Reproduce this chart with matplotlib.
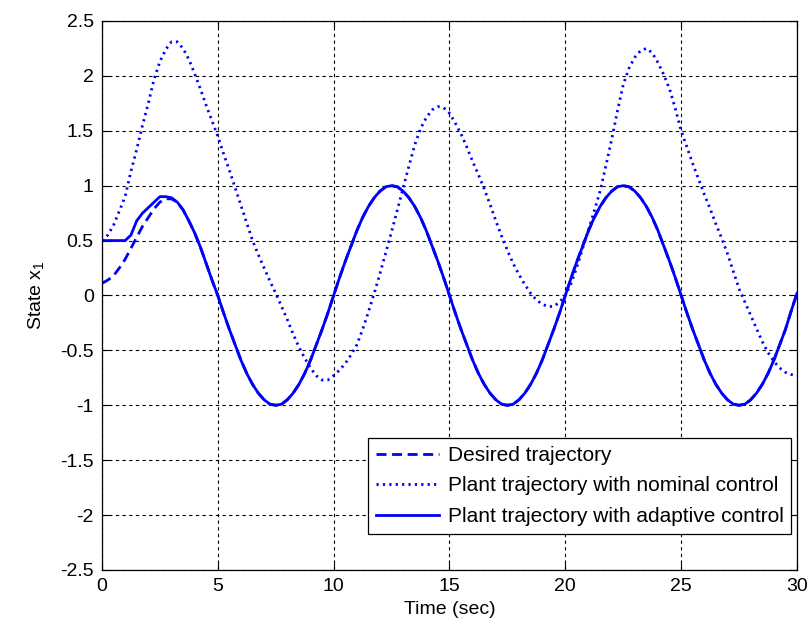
import numpy as np
import matplotlib
matplotlib.use("Agg")
import matplotlib.pyplot as plt

# time samples (sec), 0.25 s apart
time = np.arange(0, 30.001, 0.25)

# values, t = 0 ... 5 s
adaptive_early = [0.50, 0.50, 0.50, 0.50, 0.50, 0.55, 0.68, 0.75, 0.80, 0.85, 0.90,
                  0.90, 0.89, 0.85, 0.78, 0.68, 0.57, 0.44, 0.29, 0.14, 0.00]
desired_early = [0.11, 0.14, 0.18, 0.25, 0.33, 0.43, 0.53, 0.63, 0.71, 0.79, 0.85,
                 0.88, 0.88, 0.85, 0.78, 0.68, 0.57, 0.44, 0.29, 0.14, 0.00]
nominal_early = [0.50, 0.55, 0.64, 0.77, 0.90, 1.13, 1.33, 1.55, 1.75, 1.97, 2.13,
                 2.24, 2.31, 2.31, 2.25, 2.15, 2.02, 1.88, 1.73, 1.59, 1.45]

# desired and adaptive coincide after 5 s (t = 5.25 ... 30)
tracking_late = [
    -0.16, -0.31, -0.45, -0.59, -0.71, -0.81, -0.89, -0.95, -0.99, -1.00,
    -0.99, -0.95, -0.89, -0.81, -0.71, -0.59, -0.45, -0.31, -0.16, 0.00,
    0.16, 0.31, 0.45, 0.59, 0.71, 0.81, 0.89, 0.95, 0.99, 1.00,
    0.99, 0.95, 0.89, 0.81, 0.71, 0.59, 0.45, 0.31, 0.16, 0.00,
    -0.16, -0.31, -0.45, -0.59, -0.71, -0.81, -0.89, -0.95, -0.99, -1.00,
    -0.99, -0.95, -0.89, -0.81, -0.71, -0.59, -0.45, -0.31, -0.16, 0.00,
    0.16, 0.31, 0.45, 0.59, 0.71, 0.81, 0.89, 0.95, 0.99, 1.00,
    0.99, 0.95, 0.89, 0.81, 0.71, 0.59, 0.45, 0.31, 0.16, 0.00,
    -0.16, -0.31, -0.45, -0.59, -0.71, -0.81, -0.89, -0.95, -0.99, -1.00,
    -0.99, -0.95, -0.89, -0.81, -0.71, -0.59, -0.45, -0.31, -0.14, 0.02]

nominal_late = [
    1.29, 1.14, 0.98, 0.82,      # 5.25-6
    0.66, 0.50, 0.37, 0.25,      # 6.25-7
    0.13, 0.02, -0.10, -0.22,    # 7.25-8
    -0.35, -0.47, -0.57, -0.66,  # 8.25-9
    -0.73, -0.77, -0.77, -0.73,  # 9.25-10
    -0.68, -0.62, -0.54, -0.45,  # 10.25-11
    -0.31, -0.15, 0.02, 0.20,    # 11.25-12
    0.39, 0.58, 0.78, 0.98,      # 12.25-13
    1.18, 1.37, 1.52, 1.62,      # 13.25-14
    1.69, 1.72, 1.71, 1.66,      # 14.25-15
    1.57, 1.47, 1.35, 1.22,      # 15.25-16
    1.10, 0.97, 0.83, 0.68,      # 16.25-17
    0.54, 0.41, 0.29, 0.19,      # 17.25-18
    0.10, 0.02, -0.04, -0.08,    # 18.25-19
    -0.10, -0.10, -0.06, 0.00,   # 19.25-20
    0.11, 0.26, 0.43, 0.60,      # 20.25-21
    0.77, 0.95, 1.18, 1.42,      # 21.25-22
    1.68, 1.92, 2.07, 2.17,      # 22.25-23
    2.23, 2.25, 2.21, 2.12,      # 23.25-24
    2.01, 1.88, 1.70, 1.50,      # 24.25-25
    1.35, 1.20, 1.06, 0.92,      # 25.25-26
    0.79, 0.65, 0.52, 0.38,      # 26.25-27
    0.22, 0.06, -0.06, -0.18,    # 27.25-28
    -0.30, -0.42, -0.52, -0.60,  # 28.25-29
    -0.66, -0.70, -0.72, -0.73]  # 29.25-30

desired = desired_early + tracking_late
adaptive = adaptive_early + tracking_late
nominal = nominal_early + nominal_late

xticks = [0, 5, 10, 15, 20, 25, 30]
yticks = [-2.5, -2, -1.5, -1, -0.5, 0, 0.5, 1, 1.5, 2, 2.5]
ytick_labels = ["-2.5", "-2", "-1.5", "-1", "-0.5", "0", "0.5", "1", "1.5", "2", "2.5"]

FS = 14
LFS = 15
plt.rcParams['font.family'] = ['Liberation Sans', 'DejaVu Sans']
plt.rcParams['font.size'] = FS
plt.rcParams['mathtext.fontset'] = 'custom'
plt.rcParams['mathtext.rm'] = 'Liberation Sans'
plt.rcParams['mathtext.it'] = 'Liberation Sans'

fig = plt.figure(figsize=(8.08, 6.26), dpi=100)
ax = fig.add_axes([0.1262, 0.0895, 0.8602, 0.877])

blue = (0, 0, 1)
ax.plot(time, desired, color=blue, lw=2.0, linestyle=(0, (3.6, 2.0)), label="Desired trajectory")
ax.plot(time, nominal, color=blue, lw=2.0, linestyle=(0, (0.8, 1.5)),
        label="Plant trajectory with nominal control")
ax.plot(time, adaptive, color=blue, lw=2.0, linestyle="-",
        label="Plant trajectory with adaptive control")

ax.set_xlim(0, 30)
ax.set_ylim(-2.5, 2.5)
ax.set_xticks(xticks)
ax.set_yticks(yticks)
ax.set_yticklabels(ytick_labels)
ax.grid(True, color="black", linestyle=(0, (3, 3)), linewidth=0.8)
ax.tick_params(direction="in", top=True, right=True, length=5, width=0.8, pad=6,
               labelsize=FS)
for s in ax.spines.values():
    s.set_linewidth(0.9)

ax.set_xlabel("Time (sec)", labelpad=4, fontsize=FS)
ax.set_ylabel("State x$_\\mathregular{1}$", labelpad=10, fontsize=FS)

leg = ax.legend(loc="lower right", bbox_to_anchor=(0.992, 0.066), fancybox=False,
                framealpha=1, edgecolor="black", handlelength=3.0, handletextpad=0.43,
                labelspacing=0.55, borderpad=0.38, borderaxespad=0.0, fontsize=LFS)
leg.get_frame().set_linewidth(0.9)

fig.savefig("out.png", dpi=100)
